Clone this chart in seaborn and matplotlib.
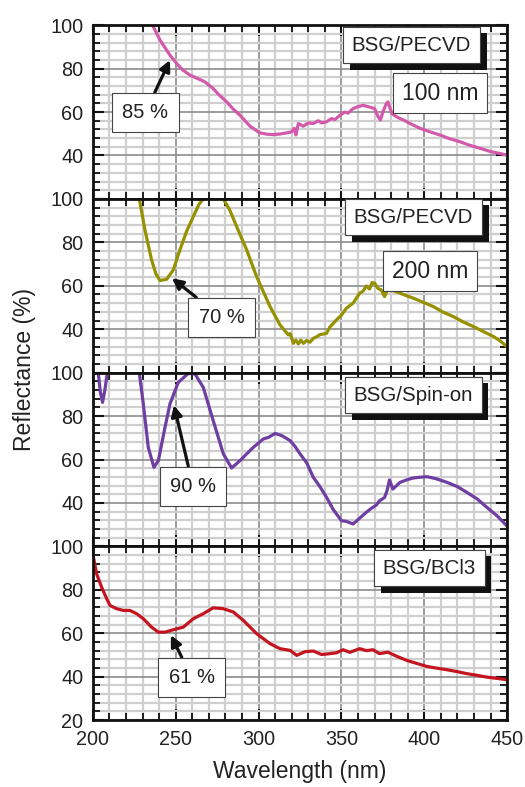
import numpy as np
import pandas as pd
import matplotlib
matplotlib.use("Agg")
import matplotlib.pyplot as plt
import matplotlib.patheffects as pe
from matplotlib.ticker import MultipleLocator
import seaborn as sns

# reflectance spectra (wavelength nm, reflectance %)
wl_100 = [236, 240.5, 246.5, 250.5, 254, 258.6, 263, 267.6, 272.6, 276, 280.7, 284.5, 288.8, 294.8,
          300.8, 305, 308.9, 313, 317, 320, 321.5, 322.5, 324, 327, 330, 333, 336, 338, 341, 344,
          346, 349, 352, 354, 357, 360, 363, 366, 370, 372, 373.5, 375, 377, 378, 380.5, 384,
          387.5, 392, 397.5, 403, 409.5, 415, 421.6, 427, 433.7, 440, 445, 449.8]
r_100 = [100, 93.1, 86.2, 82.4, 79.5, 77.0, 75.5, 73.9, 70.8, 68.0, 64.7, 61.5, 58.5, 53.5,
         50.4, 49.8, 49.6, 49.9, 50.4, 50.9, 52.5, 49.5, 54.7, 53.5, 55.0, 54.7, 56.0, 55.0, 55.5, 57.0,
         56.5, 58.5, 60.0, 59.5, 61.6, 62.5, 63.1, 62.5, 61.6, 58.0, 56.3, 60.0, 63.8, 64.7, 59.2, 57.5,
         56.3, 54.5, 52.5, 51.0, 49.4, 47.8, 46.3, 44.8, 43.3, 41.8, 41.0, 40.2]

wl_200 = [228, 231.4, 235.4, 238, 240.5, 244.5, 248.5, 252.5, 256.5, 260.6, 264, 266.6, 272, 278.7,
          282.5, 286.8, 292.8, 298.8, 306.9, 312.9, 317.9, 319, 321, 322.5, 324, 325.5, 327, 329,
          331, 333, 335, 337, 341, 343, 347, 350, 353, 357, 361, 363, 365, 367, 368.5, 370, 372,
          374, 376, 378, 383, 388, 393.4, 399, 405.5, 411, 417.6, 423, 429.7, 436, 441.8, 446, 449.8]
r_200 = [100, 85.7, 71.9, 65.5, 62.4, 63.0, 67.3, 76.5, 85.0, 91.9, 97.5, 100, 101, 100,
         95.0, 87.2, 76.5, 64.2, 50.4, 42.0, 37.4, 38.0, 33.5, 35.0, 33.2, 35.0, 33.5, 34.8,
         34.0, 35.8, 36.5, 37.5, 38.1, 41.0, 44.3, 46.5, 49.7, 52.0, 56.6, 57.5, 59.9, 58.5, 61.5, 61.2, 58.8,
         58.1, 55.0, 58.5, 57.3, 55.8, 54.3, 52.5, 50.4, 48.0, 45.8, 43.5, 41.2, 38.8, 36.6, 34.5, 32.0]

# spin-on curve leaves the frame above 100 % between ~209 and ~228 nm
wl_spin_a = [203.2, 204.5, 205.8, 207.2, 208.7]
r_spin_a = [100, 91, 86.3, 92, 100]
wl_spin_b = [228, 230.4, 233.4, 236.8, 239.5, 243.5, 246.5, 251.5, 257.5, 261.6, 266.6, 272.6,
             278.7, 283.7, 288.8, 292, 296.8, 302.9, 306, 309.9, 314, 319, 322, 325, 329, 333,
             337, 341, 345, 350, 353, 357, 361, 365, 368, 371, 373, 376, 377.5, 379, 381, 385.4,
             390, 393.4, 397, 401.5, 407, 413.6, 420, 425.6, 432, 437.7, 444, 449.8]
r_spin_b = [100, 85.6, 65.6, 56.4, 59.5, 74.8, 85.6, 95.5, 99.6, 99.4, 93.2, 77.9,
            62.6, 56.1, 59.5, 62.0, 65.6, 69.5, 70.2, 72.0, 71.0, 68.7, 66.0, 62.6, 58.5, 51.8,
            47.5, 42.6, 37.0, 31.8, 31.5, 30.3, 33.0, 35.7, 37.5, 39.0, 41.0, 42.5, 45.6, 50.6, 46.4, 49.5,
            50.8, 51.5, 51.8, 52.1, 51.2, 49.5, 47.5, 44.9, 41.8, 38.0, 34.0, 29.5]

wl_bcl3 = [200, 202.2, 205.2, 208.3, 210.3, 214.3, 218.3, 222.3, 226.4, 230.4, 235.4, 239.5, 243.5,
           248.5, 254.5, 260.6, 266.6, 272.6, 278.7, 284.7, 290.8, 298.8, 306.9, 312.9, 319, 323,
           328, 333, 338, 343, 347, 351, 355, 361, 365, 369, 373, 378, 383, 389.4, 395, 401.5,
           407, 413.6, 420, 425.6, 432, 437.7, 444, 449.8]
r_bcl3 = [96.3, 87.4, 81.3, 75.9, 72.8, 71.3, 70.5, 70.5, 69.0, 66.7, 62.8, 60.5, 60.5,
          61.6, 62.8, 66.7, 69.0, 71.7, 71.3, 69.8, 65.9, 59.8, 55.2, 52.9, 52.1, 49.8,
          51.5, 51.8, 50.2, 50.6, 51.0, 52.4, 51.2, 52.9, 52.0, 52.4, 50.6, 51.3, 49.5, 47.5, 46.2, 44.7,
          44.0, 43.2, 42.3, 41.4, 40.6, 39.8, 39.2, 38.6]

panel_labels = ["BSG/PECVD", "BSG/PECVD", "BSG/Spin-on", "BSG/BCl3"]
thickness_labels = ["100 nm", "200 nm", None, None]
min_labels = ["85 %", "70 %", "90 %", "61 %"]
min_points = [(246.5, 83.9), (247.7, 63.5), (248.9, 85.0), (247.1, 59.1)]
min_text_pos = [(231.7, 59.9), (277.6, 45.5), (260.4, 47.7), (259.5, 39.7)]
colors = ["#d35aab", "#969100", "#6e3ea2", "#c4141f"]

sns.set_theme(style="ticks")
plt.rcParams["font.family"] = ["Liberation Sans", "DejaVu Sans"]

fig, axes = plt.subplots(4, 1, figsize=(5.25, 7.87), dpi=100, sharex=True)
fig.subplots_adjust(left=0.177, right=0.966, top=0.968, bottom=0.085, hspace=0)

curves = [[(wl_100, r_100)], [(wl_200, r_200)],
          [(wl_spin_a, r_spin_a), (wl_spin_b, r_spin_b)], [(wl_bcl3, r_bcl3)]]
label_pos = [(0.769, 0.885), (0.774, 0.895), (0.773, 0.870), (0.812, 0.874)]
thick_pos = [(0.838, 0.608), (0.814, 0.584), None, None]

for i, ax in enumerate(axes):
    for wl, r in curves[i]:
        sns.lineplot(x=wl, y=r, ax=ax, color=colors[i], lw=2.3, sort=False, estimator=None)
    ax.set_xlim(200, 450)
    ax.set_ylim(20, 100)
    ax.xaxis.set_major_locator(MultipleLocator(50))
    ax.xaxis.set_minor_locator(MultipleLocator(10))
    ax.set_yticks([20, 40, 60, 80, 100])
    if i < 3:
        ax.set_yticklabels(["", "40", "60", "80", "100"])
    ax.yaxis.set_minor_locator(MultipleLocator(4))
    ax.set_axisbelow(True)
    ax.grid(which="minor", color="#cfcfcf", lw=1.6)
    ax.grid(which="major", color="#8c8c8c", lw=1.2)
    ax.tick_params(which="both", direction="in", top=True, right=True,
                   color="#111111", labelsize=14.3, labelcolor="#222222")
    ax.tick_params(which="major", length=8, width=1.5, pad=7)
    ax.tick_params(axis="x", which="major", pad=7)
    ax.tick_params(which="minor", length=5, width=1.3)
    for s in ax.spines.values():
        s.set_linewidth(2)
        s.set_color("#111111")

    # sample label with black drop shadow
    t = ax.text(*label_pos[i], panel_labels[i], transform=ax.transAxes, ha="center", va="center",
                fontsize=14.8, color="#222222",
                bbox=dict(boxstyle="square,pad=0.42", fc="white", ec="#444444", lw=0.8))
    t.get_bbox_patch().set_path_effects(
        [pe.withSimplePatchShadow(offset=(5, -4.5), shadow_rgbFace="#111111", alpha=1), pe.Normal()])

    if thickness_labels[i]:
        ax.text(*thick_pos[i], thickness_labels[i], transform=ax.transAxes, ha="center", va="center",
                fontsize=16.5, color="#222222",
                bbox=dict(boxstyle="square,pad=0.38", fc="white", ec="#444444", lw=0.8))

    ax.annotate(min_labels[i], xy=min_points[i], xytext=min_text_pos[i], ha="center", va="center",
                fontsize=14.5, color="#222222",
                bbox=dict(boxstyle="square,pad=0.5", fc="white", ec="#444444", lw=0.8),
                arrowprops=dict(arrowstyle="-|>", color="#111111", lw=2.3, mutation_scale=16,
                                shrinkA=0, shrinkB=0))

axes[-1].set_xlabel("Wavelength (nm)", fontsize=16.5, color="#222222", labelpad=8)
fig.text(0.046, 0.53, "Reflectance (%)", rotation=90, ha="center", va="center",
         fontsize=16.5, color="#222222")

fig.savefig("out.png", dpi=100)
